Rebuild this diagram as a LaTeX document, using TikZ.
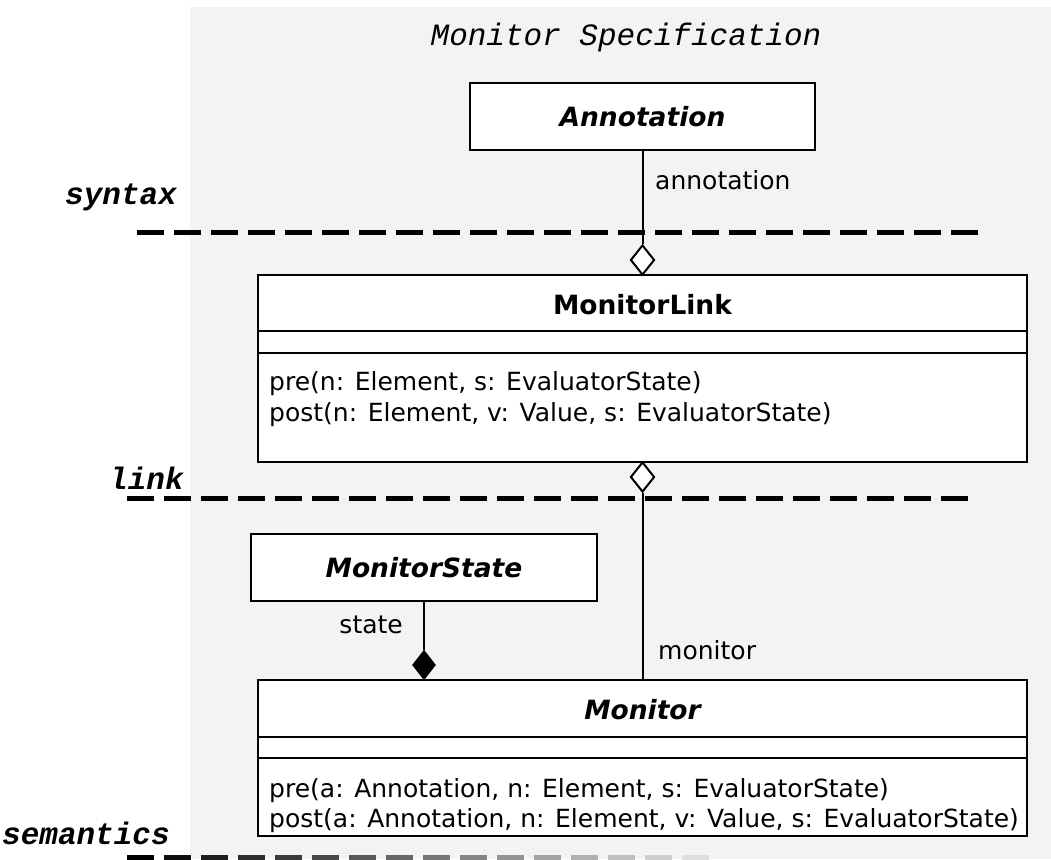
\documentclass[tikz,border=0pt]{standalone}
\usepackage{fontspec}
\setmainfont{DejaVu Sans}
\newfontfamily\specmono{Liberation Mono}
\usetikzlibrary{shapes.geometric}
\definecolor{panel}{HTML}{F3F3F3}

\tikzset{
  classbox/.style={draw, line width=2pt, fill=white, inner sep=0pt},
  classname/.style={font=\fontsize{26.5}{26.5}\selectfont\bfseries\itshape},
  plainname/.style={font=\fontsize{26.5}{26.5}\selectfont\bfseries},
  optext/.style={anchor=base west, inner sep=0pt, font=\fontsize{25}{25}\selectfont},
  rolelabel/.style={inner sep=0pt, font=\fontsize{25}{25}\selectfont},
  layerlabel/.style={anchor=west, inner sep=0pt, font=\specmono\fontsize{31}{31}\selectfont\bfseries\itshape},
  layerline/.style={line width=5pt, dash pattern=on 27pt off 10pt},
  conn/.style={line width=2pt},
  aggr/.style={diamond, draw, line width=2pt, fill=white, inner sep=0pt, minimum width=24pt, minimum height=30pt},
  compo/.style={diamond, draw, line width=2pt, fill=black, inner sep=0pt, minimum width=22pt, minimum height=28pt},
  rule/.style={line width=2pt}
}

\begin{document}
\begin{tikzpicture}[x=1pt, y=-1pt]
\useasboundingbox (0,0) rectangle (1051,859);

% panel behind the specification
\fill[panel] (190,7) rectangle (1051,859);

\node[font=\specmono\fontsize{31}{31}\selectfont\itshape, inner sep=0pt] (title) at (626,37) {Monitor Specification};

% layer separators
\draw[layerline] (137,232) -- (985,232);
\draw[layerline] (127,498) -- (973,498);
\foreach \i in {0,...,15} {
  \pgfmathsetmacro{\shade}{100-5.8*\i}
  \draw[line width=5pt, draw=black!\shade] (127+37*\i,857) -- (154+37*\i,857);
}
\node[layerlabel] (syntax) at (65,197) {syntax};
\node[layerlabel] (link) at (109,478) {link};
\node[layerlabel] (semantics) at (2,833) {semantics};

% Annotation
\node[classbox, minimum width=345pt, minimum height=67pt, classname] (ann) at (642.5,116.5) {Annotation};

% MonitorLink
\node[classbox, minimum width=769pt, minimum height=187pt] (ml) at (642.5,368.5) {};
\node[plainname, inner sep=0pt] (mltitle) at (642.5,305) {MonitorLink};
\draw[rule] (ml.west |- 0,331) -- (ml.east |- 0,331);
\draw[rule] (ml.west |- 0,353) -- (ml.east |- 0,353);
\node[optext] (mlpre) at (269,390) {pre(n: Element, s: EvaluatorState)};
\node[optext] (mlpost) at (269,421) {post(n: Element, v: Value, s: EvaluatorState)};

% MonitorState
\node[classbox, minimum width=346pt, minimum height=67pt, classname] (ms) at (424,567.5) {MonitorState};

% Monitor
\node[classbox, minimum width=769pt, minimum height=156pt] (mon) at (642.5,758) {};
\node[classname, inner sep=0pt] (montitle) at (642.5,710) {Monitor};
\draw[rule] (mon.west |- 0,737) -- (mon.east |- 0,737);
\draw[rule] (mon.west |- 0,758) -- (mon.east |- 0,758);
\node[optext] (monpre) at (269,797) {pre(a: Annotation, n: Element, s: EvaluatorState)};
\node[optext] (monpost) at (269,827) {post(a: Annotation, n: Element, v: Value, s: EvaluatorState)};

% associations
\node[aggr] (d1) at (642.5,260) {};
\draw[conn] (ann.south) -- (d1.north);
\node[rolelabel, anchor=west] (lannot) at (655,180) {annotation};

\node[aggr] (d2) at (642.5,477) {};
\draw[conn] (d2.south) -- (mon.north -| d2.south);
\node[rolelabel, anchor=west] (lmon) at (658,650) {monitor};

\node[compo] (d3) at (424,665) {};
\draw[conn] (ms.south) -- (d3.north);
\node[rolelabel, anchor=east] (lstate) at (403,625) {state};
\end{tikzpicture}
\end{document}
